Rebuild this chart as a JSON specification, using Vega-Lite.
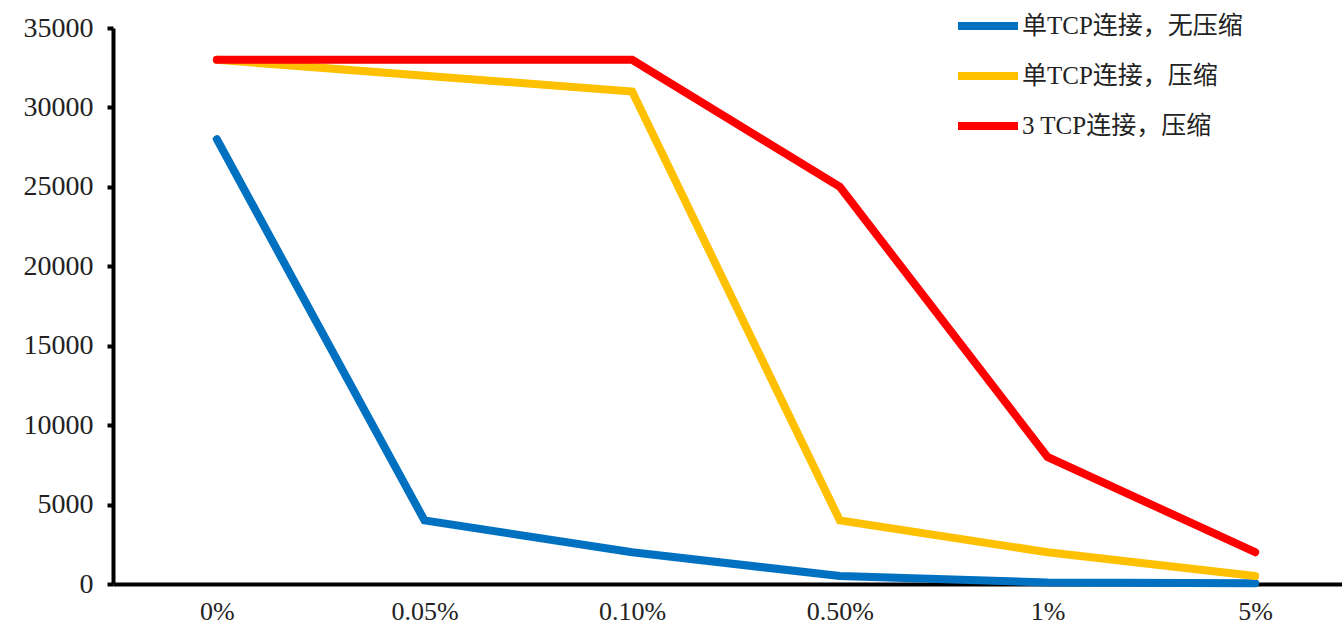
{
  "$schema": "https://vega.github.io/schema/vega-lite/v6.json",
  "width": 1246,
  "height": 556,
  "autosize": {"type": "none"},
  "padding": {"left": 113, "top": 28, "right": 0, "bottom": 42},
  "background": "white",
  "config": {"view": {"stroke": null}, "font": "Liberation Serif, Noto Sans CJK SC"},
  "data": {"values": [
    {"rate": "0%", "series": "单TCP连接，无压缩", "v": 28000},
    {"rate": "0.05%", "series": "单TCP连接，无压缩", "v": 4000},
    {"rate": "0.10%", "series": "单TCP连接，无压缩", "v": 2000},
    {"rate": "0.50%", "series": "单TCP连接，无压缩", "v": 500},
    {"rate": "1%", "series": "单TCP连接，无压缩", "v": 100},
    {"rate": "5%", "series": "单TCP连接，无压缩", "v": 50},
    {"rate": "0%", "series": "单TCP连接，压缩", "v": 33000},
    {"rate": "0.05%", "series": "单TCP连接，压缩", "v": 32000},
    {"rate": "0.10%", "series": "单TCP连接，压缩", "v": 31000},
    {"rate": "0.50%", "series": "单TCP连接，压缩", "v": 4000},
    {"rate": "1%", "series": "单TCP连接，压缩", "v": 2000},
    {"rate": "5%", "series": "单TCP连接，压缩", "v": 500},
    {"rate": "0%", "series": "3 TCP连接，压缩", "v": 33000},
    {"rate": "0.05%", "series": "3 TCP连接，压缩", "v": 33000},
    {"rate": "0.10%", "series": "3 TCP连接，压缩", "v": 33000},
    {"rate": "0.50%", "series": "3 TCP连接，压缩", "v": 25000},
    {"rate": "1%", "series": "3 TCP连接，压缩", "v": 8000},
    {"rate": "5%", "series": "3 TCP连接，压缩", "v": 2000}
  ]},
  "mark": {"type": "line", "strokeWidth": 8, "strokeCap": "round", "strokeJoin": "miter", "clip": false},
  "encoding": {
    "x": {
      "field": "rate", "type": "ordinal",
      "sort": ["0%", "0.05%", "0.10%", "0.50%", "1%", "5%"],
      "scale": {"type": "point", "padding": 0.5},
      "axis": {"title": null, "domainColor": "black", "domainWidth": 4, "ticks": false, "labelAngle": 0, "labelFontSize": 26, "labelColor": "#222", "labelPadding": 14, "labelFont": "Liberation Serif"}
    },
    "y": {
      "field": "v", "type": "quantitative",
      "scale": {"domain": [0, 35000]},
      "axis": {"title": null, "values": [0, 5000, 10000, 15000, 20000, 25000, 30000, 35000], "grid": false, "domainColor": "black", "domainWidth": 4, "tickColor": "black", "tickWidth": 4, "tickSize": 6, "labelFontSize": 28, "labelColor": "#222", "labelPadding": 14, "format": "d", "labelFont": "Liberation Serif"}
    },
    "color": {
      "field": "series", "type": "nominal",
      "sort": ["单TCP连接，无压缩", "单TCP连接，压缩", "3 TCP连接，压缩"],
      "scale": {"domain": ["单TCP连接，无压缩", "单TCP连接，压缩", "3 TCP连接，压缩"], "range": ["#0070C0", "#FFC000", "#FF0000"]},
      "legend": {"title": null, "orient": "none", "legendX": 841, "legendY": -36, "symbolType": "stroke", "symbolSize": 3600, "symbolStrokeWidth": 8, "labelFontSize": 25, "labelLimit": 400, "labelColor": "#222", "labelOffset": 0, "rowPadding": -20, "labelFont": "Liberation Serif, Noto Sans CJK SC"}
    }
  }
}
